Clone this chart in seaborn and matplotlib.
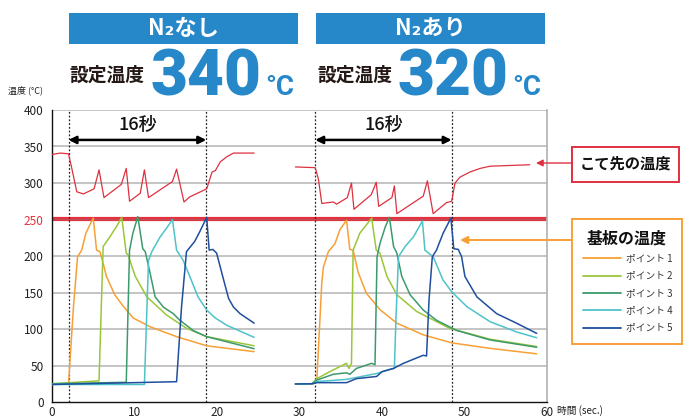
import matplotlib
matplotlib.use("Agg")
import matplotlib.pyplot as plt
import seaborn as sns
import pandas as pd
from matplotlib.patches import Rectangle

sns.set_theme(style="white")
plt.rcParams['font.family'] = ['Noto Sans CJK JP', 'DejaVu Sans']

# ---------------- data ----------------
tip1_x = [0, 1.0, 2.0, 2.4, 3.0, 3.8, 5.1, 5.7, 6.3, 8.4, 9.0, 9.4, 10.7, 11.2, 11.7, 14.6, 15.1, 16.0, 16.7, 18.75, 19.4, 19.8, 20.4, 21.2, 22.0, 24.5]
tip1_y = [339, 341, 340, 320, 288, 285, 292, 318, 280, 298, 320, 275, 286, 318, 280, 302, 319, 274, 281, 292, 315, 317, 329, 336, 341, 341]
tip2_x = [29.5, 31.9, 32.3, 32.7, 34.1, 34.5, 35.8, 36.3, 36.6, 38.7, 39.3, 39.6, 41.2, 41.5, 41.8, 45.0, 45.5, 46.2, 47.8, 48.45, 48.85, 49.45, 50.65, 51.9, 53.1, 57.9]
tip2_y = [322, 321, 305, 272, 274, 271, 280, 300, 264, 284, 301, 268, 280, 296, 258, 282, 303, 258, 273, 275, 300, 308, 315, 320, 323, 325]

p1a_x = [0, 2.0, 2.6, 3.1, 3.6, 4.1, 4.6, 5.0, 5.4, 5.8, 6.2, 6.6, 7.6, 8.65, 9.85, 11.9, 15.1, 18.75, 24.5]
p1a_y = [24, 25, 130, 199, 208, 231, 243, 252, 208, 206, 190, 172, 147, 131, 115, 103, 89.5, 77, 69]
p2a_x = [0, 5.7, 6.2, 7.0, 7.8, 8.45, 9.0, 9.25, 9.7, 10.1, 11.5, 13.9, 16.3, 18.75, 24.5]
p2a_y = [25, 29, 213, 226, 240, 253, 204, 201, 185, 172, 144, 119, 101, 89.5, 77]
p3a_x = [0, 9.0, 9.4, 9.8, 10.4, 11.0, 11.3, 11.9, 12.5, 13.5, 14.7, 15.5, 17.1, 18.75, 24.5]
p3a_y = [25, 27, 208, 231, 254, 210, 206, 176, 144, 130, 121, 112, 98, 89.5, 73]
p4a_x = [0, 11.2, 11.7, 12.1, 13.1, 14.0, 14.6, 15.1, 15.9, 16.7, 17.7, 18.75, 19.8, 21.2, 24.5]
p4a_y = [24, 24, 194, 206, 226, 240, 250, 208, 194, 172, 144, 126, 115, 105, 88.6]
p5a_x = [0, 15.1, 15.7, 16.3, 17.3, 17.9, 18.75, 19.05, 19.5, 19.95, 20.6, 21.4, 22.0, 22.8, 24.5]
p5a_y = [24, 27.8, 130, 206, 220, 233, 253, 208, 209, 204, 176, 142, 130, 121, 108]

p1b_x = [29.5, 31.7, 32.1, 32.7, 32.9, 33.5, 34.3, 34.9, 35.7, 36.1, 36.5, 37.1, 38.1, 39.8, 41.8, 45.0, 48.45, 53.1, 58.75]
p1b_y = [24.7, 24.7, 30, 163, 185, 206, 217, 236, 249, 209, 208, 178, 149, 126, 108, 92, 81, 73.5, 66]
p2b_x = [29.5, 31.5, 32.1, 34.1, 35.7, 36.0, 36.3, 36.5, 37.3, 38.75, 39.3, 39.75, 40.6, 41.8, 44.2, 48.2, 53.1, 58.75]
p2b_y = [24.7, 25, 32, 44, 53, 46, 53, 208, 231, 252, 208, 204, 172, 147, 124, 101, 86, 76]
p3b_x = [29.5, 31.5, 32.1, 34.1, 35.7, 36.1, 36.9, 38.75, 39.15, 39.4, 39.75, 40.4, 40.9, 41.4, 41.8, 42.4, 43.4, 45.0, 46.6, 49.05, 53.1, 58.75]
p3b_y = [24.7, 25, 30, 38, 40, 38, 46, 53, 51, 199, 217, 240, 253, 213, 204, 172, 147, 126, 112, 98, 85, 75]
p4b_x = [29.5, 31.5, 32.1, 35.7, 39.35, 41.0, 41.5, 41.7, 42.0, 42.8, 43.8, 44.9, 45.2, 46.2, 47.4, 48.45, 50.3, 53.1, 56.3, 58.75]
p4b_y = [24.7, 25, 28, 31, 39, 45, 46, 117, 199, 213, 226, 248, 208, 199, 167, 151, 130.5, 110, 96, 88]
p5b_x = [29.5, 31.5, 32.1, 35.7, 36.9, 39.35, 40.0, 41.4, 42.6, 45.0, 45.4, 45.7, 46.1, 46.6, 47.4, 48.35, 48.7, 49.25, 49.65, 50.05, 51.5, 53.9, 56.3, 58.75]
p5b_y = [24.7, 25, 26.5, 26.5, 32, 35, 41.5, 46, 53, 64, 63, 140, 199, 208, 231, 252, 210, 209, 199, 172, 144, 121, 108, 94]

point_labels = ["ポイント 1", "ポイント 2", "ポイント 3", "ポイント 4", "ポイント 5"]
point_colors = ["#f7a035", "#9bc63a", "#3d9a6c", "#4dc3c9", "#1f4f9e"]
tip_color = "#df3040"

marks_a = [2.0, 18.7]
marks_b = [31.9, 48.45]
x_ticks = [0, 10, 20, 30, 40, 50, 60]
y_ticks = [0, 50, 100, 150, 200, 250, 300, 350, 400]

# ---------------- figure ----------------
W, H = 685, 419
fig = plt.figure(figsize=(W / 100, H / 100), dpi=100)
fig.patch.set_facecolor("white")


def fx(x):
    return x / W


def fy(y):
    return 1 - y / H


ax = fig.add_axes([fx(52), fy(402), (547 - 52) / W, (402 - 110) / H])
ax.set_facecolor("white")

# gridlines
for yt in y_ticks:
    if yt in (0, 250):
        continue
    ax.axhline(yt, color="#c4c4c4", lw=1.4, zorder=0)
ax.axhline(250, color="#e8303c", lw=3.0, zorder=1)
ax.axhline(250, color="#c24a55", lw=1.0, zorder=1)

# dashed markers
for m in marks_a + marks_b:
    ax.axvline(m, color="#222222", lw=0.9, ls=(0, (1.5, 1.5)), zorder=2)

pa = [(p1a_x, p1a_y), (p2a_x, p2a_y), (p3a_x, p3a_y), (p4a_x, p4a_y), (p5a_x, p5a_y)]
pb = [(p1b_x, p1b_y), (p2b_x, p2b_y), (p3b_x, p3b_y), (p4b_x, p4b_y), (p5b_x, p5b_y)]

for (xs, ys), c in zip(pa, point_colors):
    sns.lineplot(x=xs, y=ys, ax=ax, color=c, lw=1.1, sort=False, estimator=None, zorder=3)
for (xs, ys), c in zip(pb, point_colors):
    sns.lineplot(x=xs, y=ys, ax=ax, color=c, lw=1.1, sort=False, estimator=None, zorder=3)
for xs, ys in [(tip1_x, tip1_y), (tip2_x, tip2_y)]:
    sns.lineplot(x=xs, y=ys, ax=ax, color=tip_color, lw=0.9, sort=False, estimator=None, zorder=3)

ax.set_xlim(0, 60)
ax.set_ylim(0, 400)
ax.set_xticks(x_ticks)
ax.set_yticks(y_ticks)
ax.set_xlabel("")
ax.set_ylabel("")
ax.tick_params(axis="both", labelsize=8.5, colors="#222222", length=3, width=0.8, pad=3)
ax.tick_params(axis="x", direction="in")
ax.tick_params(axis="y", direction="out")
for lbl in ax.get_yticklabels():
    if lbl.get_text() == "250":
        lbl.set_color("#e8303c")
for s in ["left", "bottom"]:
    ax.spines[s].set_color("#111111")
    ax.spines[s].set_linewidth(1.0)
ax.spines["top"].set_visible(False)
ax.spines["right"].set_color("#b0b0b0")
ax.spines["right"].set_linewidth(1.2)

# 16 sec arrows
for (a, b) in [marks_a, marks_b]:
    ax.annotate("", xy=(a, 359), xytext=(b, 359),
                arrowprops=dict(arrowstyle="<|-|>", color="black", lw=1.8,
                                mutation_scale=11, shrinkA=0, shrinkB=0))
    ax.text((a + b) / 2, 380, "16秒", ha="center", va="center", fontsize=13,
            fontweight="medium", color="#111111")

# axis titles
fig.text(fx(8), fy(90), "温度 (°C)", fontsize=6.5, ha="left", va="center", color="#222222")
fig.text(fx(557), fy(411), "時間 (sec.)", fontsize=7, ha="left", va="center", color="#222222")

# header boxes
blue = "#2687c9"
for x0, x1, title, num in [(69, 298, "N₂なし", "340"), (316, 545, "N₂あり", "320")]:
    fig.patches.append(Rectangle((fx(x0), fy(44)), (x1 - x0) / W, 31 / H,
                                 transform=fig.transFigure, facecolor=blue, edgecolor="none"))
    fig.text(fx((x0 + x1) / 2), fy(28.5), title, fontsize=16, fontweight="bold",
             color="white", ha="center", va="center")
    fig.text(fx(x0 + 1), fy(75), "設定温度", fontsize=13.5, fontweight="bold",
             color="#231815", ha="left", va="center")
    fig.text(fx(x0 + 81), fy(95), num, fontsize=46, fontweight="black",
             family=["Roboto", "DejaVu Sans"], color=blue, ha="left", va="baseline")
    fig.text(fx(x1 - 33), fy(95), "°C", fontsize=20, fontweight="bold",
             family=["Roboto", "DejaVu Sans"], color=blue, ha="left", va="baseline")

# tip annotation box
fig.patches.append(Rectangle((fx(572), fy(182)), 107 / W, 35 / H, transform=fig.transFigure,
                             facecolor="white", edgecolor=tip_color, lw=1.4))
fig.text(fx(625.5), fy(164), "こて先の温度", fontsize=11, fontweight="bold",
         color="#111111", ha="center", va="center")
fig.add_artist(matplotlib.patches.FancyArrowPatch((fx(572), fy(163)), (fx(536), fy(163)),
                                                  transform=fig.transFigure, arrowstyle="-|>",
                                                  mutation_scale=10, color=tip_color, lw=1.0,
                                                  shrinkA=0, shrinkB=0))

# substrate legend box
orange = "#f7a035"
fig.patches.append(Rectangle((fx(572), fy(344)), 110 / W, (344 - 219) / H, transform=fig.transFigure,
                             facecolor="white", edgecolor=orange, lw=1.4))
fig.text(fx(627), fy(239), "基板の温度", fontsize=11.5, fontweight="bold",
         color="#111111", ha="center", va="center")
rows = [258, 275.5, 293, 310, 327.5]
for r, lab, c in zip(rows, point_labels, point_colors):
    fig.add_artist(matplotlib.lines.Line2D([fx(583), fx(621)], [fy(r), fy(r)],
                                           transform=fig.transFigure, color=c, lw=1.3))
    fig.text(fx(626), fy(r), lab, fontsize=7, color="#333333", ha="left", va="center")
fig.add_artist(matplotlib.patches.FancyArrowPatch((fx(572), fy(240)), (fx(460), fy(240)),
                                                  transform=fig.transFigure, arrowstyle="-|>",
                                                  mutation_scale=11, color=orange, lw=1.4,
                                                  shrinkA=0, shrinkB=0))

fig.savefig("out.png", dpi=100, facecolor="white")
